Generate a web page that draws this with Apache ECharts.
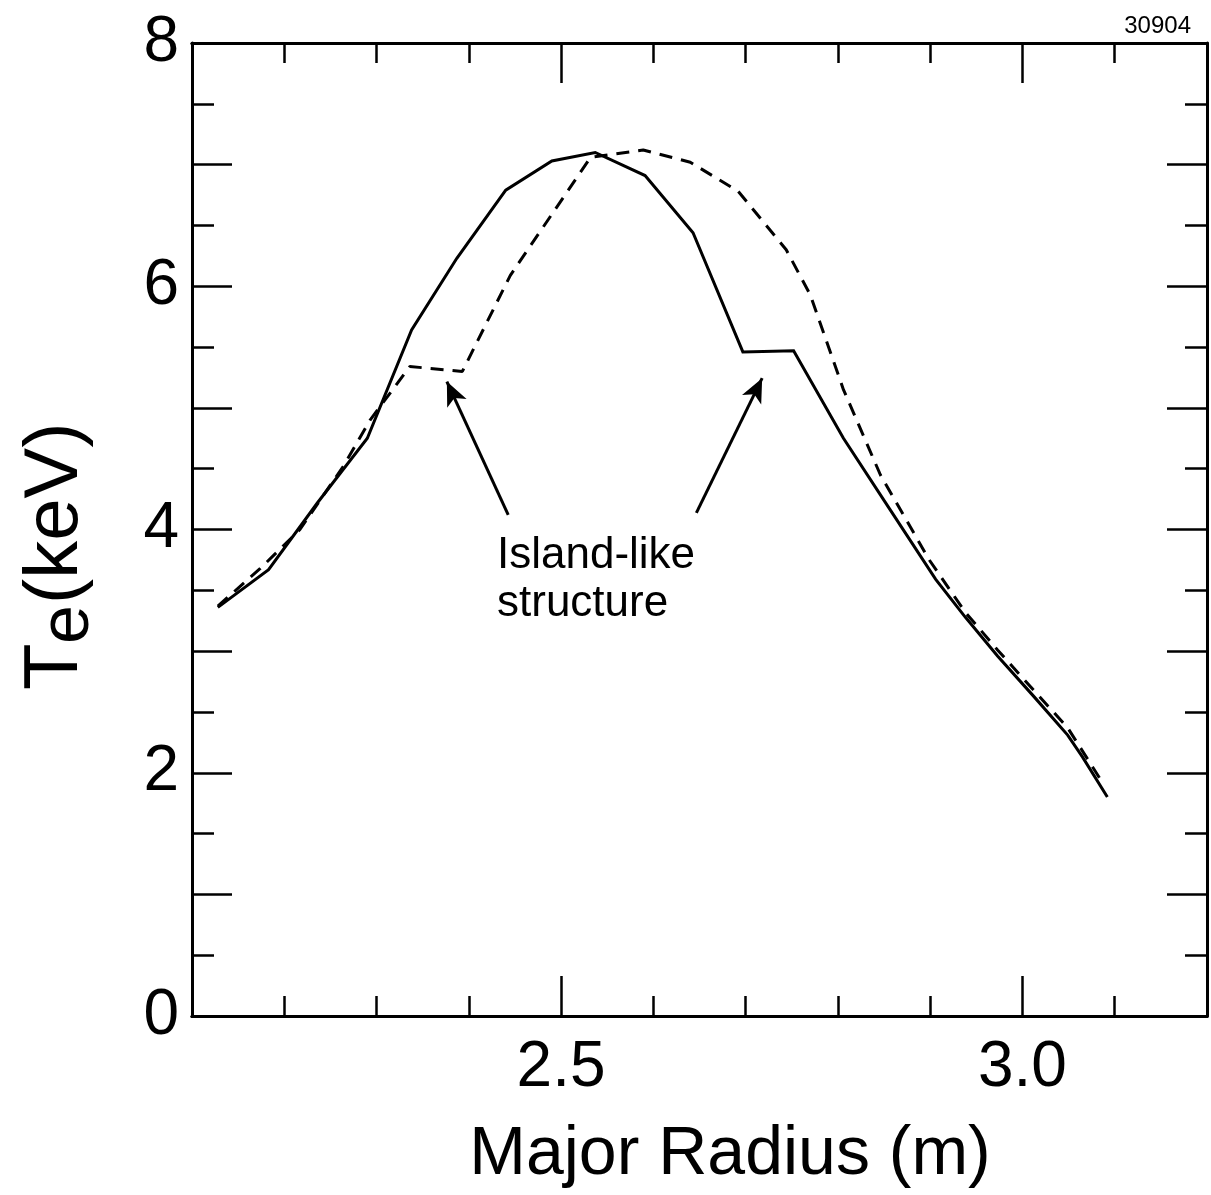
<!DOCTYPE html>
<html>
<head>
<meta charset="utf-8">
<script src="https://cdn.jsdelivr.net/npm/echarts@6/dist/echarts.min.js"></script>
<style>
html,body{margin:0;padding:0;background:#fff;}
#chart{width:1211px;height:1195px;}
</style>
</head>
<body>
<div id="chart"></div>
<script>
// Solid profile: major radius (m) and Te (keV)
const solidR  = [2.128, 2.183, 2.236, 2.290, 2.338, 2.387, 2.440, 2.490, 2.537, 2.591, 2.643, 2.697, 2.752, 2.806, 2.856, 2.906, 2.938, 2.973, 3.012, 3.049, 3.065, 3.092];
const solidTe = [3.36, 3.67, 4.22, 4.75, 5.64, 6.23, 6.79, 7.03, 7.10, 6.91, 6.44, 5.46, 5.47, 4.75, 4.17, 3.59, 3.28, 2.96, 2.63, 2.31, 2.13, 1.80];
// Dashed profile
const dashR  = [2.128, 2.174, 2.217, 2.264, 2.293, 2.336, 2.393, 2.445, 2.532, 2.589, 2.640, 2.692, 2.744, 2.770, 2.806, 2.846, 2.899, 2.938, 2.973, 3.012, 3.049, 3.085];
const dashTe = [3.37, 3.68, 4.00, 4.52, 4.90, 5.34, 5.30, 6.09, 7.06, 7.12, 7.02, 6.78, 6.30, 5.93, 5.15, 4.45, 3.75, 3.32, 3.01, 2.68, 2.37, 1.94];
// Axis ticks and labels
const xMinorTicks = [2.2, 2.3, 2.4, 2.5, 2.6, 2.7, 2.8, 2.9, 3.0, 3.1];
const xMajorTicks = [2.5, 3.0];
const xLabels = [2.5, 3.0];
const yLabels = [0, 2, 4, 6, 8];
// Annotation arrows: [tailR, tailTe, tipR, tipTe]
const arrowLeft  = [2.4427, 4.12, 2.3762, 5.216];
const arrowRight = [2.6466, 4.137, 2.7179, 5.244];
const annotationText = 'Island-like\nstructure';
const figureId = '30904';

const FONT = '"Liberation Sans", Arial, Helvetica, sans-serif';
const chart = echarts.init(document.getElementById('chart'), null, {renderer: 'canvas'});

const solidData = solidR.map((r, i) => [r, solidTe[i]]);
const dashData = dashR.map((r, i) => [r, dashTe[i]]);

const axisLineStyle = {color: '#000', width: 3};
const tickLineStyle = {color: '#000', width: 2.5};

function xAx(pos, ticks, len, labels) {
  return {
    type: 'value', position: pos, min: 2.1, max: 3.2, interval: 0.1,
    axisLine: {show: true, onZero: false, lineStyle: axisLineStyle},
    axisTick: {show: true, inside: true, length: len, customValues: ticks, lineStyle: tickLineStyle},
    axisLabel: labels ? {show: true, customValues: labels, formatter: v => Number(v).toFixed(1),
      fontSize: 64, color: '#000', fontFamily: FONT, margin: 20} : {show: false},
    splitLine: {show: false}
  };
}
function yAx(pos, labels) {
  return {
    type: 'value', position: pos, min: 0, max: 8, interval: 1,
    axisLine: {show: true, onZero: false, lineStyle: axisLineStyle},
    axisTick: {show: true, inside: true, length: 40, lineStyle: tickLineStyle},
    minorTick: {show: true, splitNumber: 2, length: 22, lineStyle: tickLineStyle},
    axisLabel: labels ? {show: true, customValues: labels, fontSize: 64, color: '#000', fontFamily: FONT, margin: 13} : {show: false},
    splitLine: {show: false}
  };
}

function arrowLine(a) {
  return [{coord: [a[0], a[1]]}, {coord: [a[2], a[3]]}];
}

const option = {
  backgroundColor: '#fff',
  animation: false,
  grid: {left: 192, right: 4, top: 43, bottom: 179, containLabel: false},
  xAxis: [
    xAx('bottom', xMinorTicks, 20, xLabels),
    xAx('bottom', xMajorTicks, 40, null),
    xAx('top', xMinorTicks, 20, null),
    xAx('top', xMajorTicks, 40, null)
  ],
  yAxis: [yAx('left', yLabels), yAx('right', null)],
  series: [
    {
      type: 'line', data: solidData, xAxisIndex: 0, yAxisIndex: 0,
      showSymbol: false, symbol: 'none',
      lineStyle: {color: '#000', width: 3, type: 'solid', join: 'miter'},
      markLine: {
        silent: true, symbol: ['none', 'arrow'], symbolSize: [16, 24],
        label: {show: false},
        lineStyle: {color: '#000', width: 3, type: 'solid'},
        data: [arrowLine(arrowLeft), arrowLine(arrowRight)]
      }
    },
    {
      type: 'line', data: dashData, xAxisIndex: 0, yAxisIndex: 0,
      showSymbol: false, symbol: 'none',
      lineStyle: {color: '#000', width: 3, type: [13, 9]}
    }
  ],
  graphic: [
    {type: 'text', left: 497, top: 532, style: {text: annotationText, font: '44px ' + FONT, fill: '#000', lineHeight: 48}},
    {type: 'text', right: 20, top: 14, style: {text: figureId, font: '24px ' + FONT, fill: '#000'}},
    {type: 'text', x: 730, y: 1121, style: {text: 'Major Radius (m)', font: '68px ' + FONT, fill: '#000', align: 'center', verticalAlign: 'top'}},
    {
      type: 'group', x: 18, y: 690, rotation: Math.PI / 2,
      children: [
        {type: 'text', x: 0, y: 0, style: {text: 'T', font: '76px ' + FONT, fill: '#000', verticalAlign: 'top'}},
        {type: 'text', x: 46, y: 16, style: {text: 'e', font: '70px ' + FONT, fill: '#000', verticalAlign: 'top'}},
        {type: 'text', x: 86, y: 0, style: {text: '(keV)', font: '76px ' + FONT, fill: '#000', verticalAlign: 'top'}}
      ]
    }
  ]
};
chart.setOption(option);
</script>
</body>
</html>
